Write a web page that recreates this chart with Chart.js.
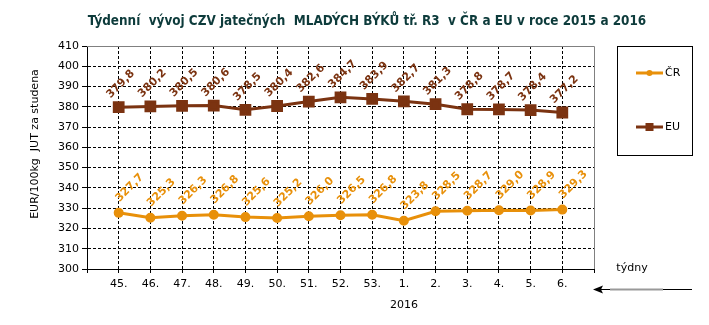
<!DOCTYPE html>
<html>
<head>
<meta charset="utf-8">
<script src="https://cdn.jsdelivr.net/npm/chart.js@4"></script>
<style>
  html, body { margin: 0; padding: 0; background: #fff; }
  #wrap { width: 709px; height: 325px; }
</style>
</head>
<body>
<div id="wrap"><canvas id="chart" width="709" height="325"></canvas></div>
<script>
// weeks 45/2015 .. 6/2016
const weeks = ['45.', '46.', '47.', '48.', '49.', '50.', '51.', '52.', '53.', '1.', '2.', '3.', '4.', '5.', '6.'];
const cr = [327.7, 325.3, 326.3, 326.8, 325.6, 325.2, 326.0, 326.5, 326.8, 323.8, 328.5, 328.7, 329.0, 328.9, 329.3];
const eu = [379.8, 380.2, 380.5, 380.6, 378.5, 380.4, 382.6, 384.7, 383.9, 382.7, 381.3, 378.8, 378.7, 378.4, 377.2];
const yTicks = [300, 310, 320, 330, 340, 350, 360, 370, 380, 390, 400, 410];

const CR_COLOR = '#e8900a';
const EU_COLOR = '#7b3311';
const FONT = '"DejaVu Sans", Verdana, sans-serif';

// empty slot at both ends so the points sit on the inner grid lines
const labels = [''].concat(weeks, ['']);
const pad = arr => [null].concat(arr, [null]);

const fmt = v => v.toFixed(1).replace('.', ',');

const valueLabels = {
  id: 'valueLabels',
  afterDatasetsDraw(chart) {
    const ctx = chart.ctx;
    chart.data.datasets.forEach((ds, i) => {
      const meta = chart.getDatasetMeta(i);
      meta.data.forEach((pt, j) => {
        const v = ds.data[j];
        if (v == null) return;
        ctx.save();
        ctx.translate(pt.x + ds.labelDx, pt.y + ds.labelDy);
        ctx.rotate(-Math.PI / 4);
        ctx.font = 'bold 11px ' + FONT;
        ctx.fillStyle = ds.borderColor;
        ctx.textAlign = 'center';
        ctx.textBaseline = 'middle';
        ctx.fillText(fmt(v), 0, 0);
        ctx.restore();
      });
    });
  }
};

const decorations = {
  id: 'decorations',
  afterDraw(chart) {
    const ctx = chart.ctx;
    const a = chart.chartArea;
    ctx.save();

    // plot frame, top and right
    ctx.strokeStyle = '#808080';
    ctx.lineWidth = 1;
    ctx.beginPath();
    ctx.moveTo(a.left, a.top + 0.5);
    ctx.lineTo(a.right + 0.5, a.top + 0.5);
    ctx.lineTo(a.right + 0.5, a.bottom);
    ctx.stroke();

    // title
    ctx.fillStyle = '#0d3b3b';
    ctx.font = 'bold 13.4px "DejaVu Sans Condensed", ' + FONT;
    ctx.textAlign = 'center';
    ctx.textBaseline = 'middle';
    ctx.fillText('Týdenní  vývoj CZV jatečných  MLADÝCH BÝKŮ tř. R3  v ČR a EU v roce 2015 a 2016', 367, 22);

    // y axis title
    ctx.fillStyle = '#000';
    ctx.font = '11px ' + FONT;
    ctx.save();
    ctx.translate(35, 144);
    ctx.rotate(-Math.PI / 2);
    ctx.fillText('EUR/100kg  JUT za studena', 0, 0);
    ctx.restore();

    // x axis captions
    ctx.fillText('2016', 404, 305);
    ctx.fillText('týdny', 632, 268);

    // arrow
    ctx.lineWidth = 1;
    ctx.strokeStyle = '#000';
    ctx.beginPath();
    ctx.moveTo(596, 289.5);
    ctx.lineTo(692, 289.5);
    ctx.stroke();
    ctx.strokeStyle = '#999';
    ctx.lineWidth = 2;
    ctx.beginPath();
    ctx.moveTo(610, 289.5);
    ctx.lineTo(663, 289.5);
    ctx.stroke();
    ctx.fillStyle = '#000';
    ctx.beginPath();
    ctx.moveTo(593, 289.5);
    ctx.lineTo(603, 285.5);
    ctx.lineTo(601, 289.5);
    ctx.lineTo(603, 293.5);
    ctx.closePath();
    ctx.fill();

    // legend
    ctx.strokeStyle = '#000';
    ctx.lineWidth = 1;
    ctx.strokeRect(617.5, 46.5, 75, 109);
    const items = [
      { text: 'ČR', color: CR_COLOR, y: 73, marker: 'circle' },
      { text: 'EU', color: EU_COLOR, y: 127, marker: 'rect' }
    ];
    items.forEach(it => {
      ctx.strokeStyle = it.color;
      ctx.fillStyle = it.color;
      ctx.lineWidth = 3;
      ctx.beginPath();
      ctx.moveTo(636, it.y);
      ctx.lineTo(663, it.y);
      ctx.stroke();
      if (it.marker === 'circle') {
        ctx.beginPath();
        ctx.arc(649.5, it.y, 3, 0, Math.PI * 2);
        ctx.fill();
      } else {
        ctx.fillRect(645.5, it.y - 4, 8, 8);
      }
      ctx.fillStyle = '#000';
      ctx.font = '11px ' + FONT;
      ctx.textAlign = 'left';
      ctx.textBaseline = 'middle';
      ctx.fillText(it.text, 665, it.y);
    });

    ctx.restore();
  }
};

new Chart(document.getElementById('chart'), {
  type: 'line',
  data: {
    labels: labels,
    datasets: [
      {
        label: 'ČR',
        data: pad(cr),
        borderColor: CR_COLOR,
        backgroundColor: CR_COLOR,
        borderWidth: 3,
        pointStyle: 'circle',
        pointRadius: 3.5,
        pointHoverRadius: 3.5,
        tension: 0,
        labelDx: 11,
        labelDy: -25
      },
      {
        label: 'EU',
        data: pad(eu),
        borderColor: EU_COLOR,
        backgroundColor: EU_COLOR,
        borderWidth: 3,
        pointStyle: 'rect',
        pointRadius: 6.2,
        pointHoverRadius: 6.2,
        tension: 0,
        labelDx: 2,
        labelDy: -23
      }
    ]
  },
  options: {
    responsive: false,
    animation: false,
    events: [],
    layout: { padding: { top: 46, right: 115, bottom: 0, left: 0 } },
    plugins: {
      legend: { display: false },
      title: { display: false },
      tooltip: { enabled: false }
    },
    scales: {
      x: {
        type: 'category',
        offset: false,
        afterFit: s => { s.height = 56; },
        grid: {
          color: c => (c.index === 0 || c.index === labels.length - 1) ? 'rgba(0,0,0,0)' : '#000',
          lineWidth: 1,
          drawTicks: true,
          tickLength: 4,
          tickColor: '#000'
        },
        border: { display: true, color: '#000', width: 1, dash: [3, 2] },
        ticks: {
          autoSkip: false,
          maxRotation: 0,
          minRotation: 0,
          padding: 5,
          color: '#000',
          font: { family: FONT, size: 11 }
        }
      },
      y: {
        min: yTicks[0],
        max: yTicks[yTicks.length - 1],
        afterFit: s => { s.width = 87; },
        afterBuildTicks: s => { s.ticks = yTicks.map(v => ({ value: v })); },
        grid: {
          color: c => (c.index === 0 || c.index === yTicks.length - 1) ? 'rgba(0,0,0,0)' : '#000',
          lineWidth: 1,
          drawTicks: true,
          tickLength: 5,
          tickColor: '#000'
        },
        border: { display: true, color: '#000', width: 1, dash: [3, 2] },
        ticks: {
          padding: 3,
          color: '#000',
          font: { family: FONT, size: 11 }
        }
      }
    }
  },
  plugins: [valueLabels, decorations]
});
</script>
</body>
</html>
